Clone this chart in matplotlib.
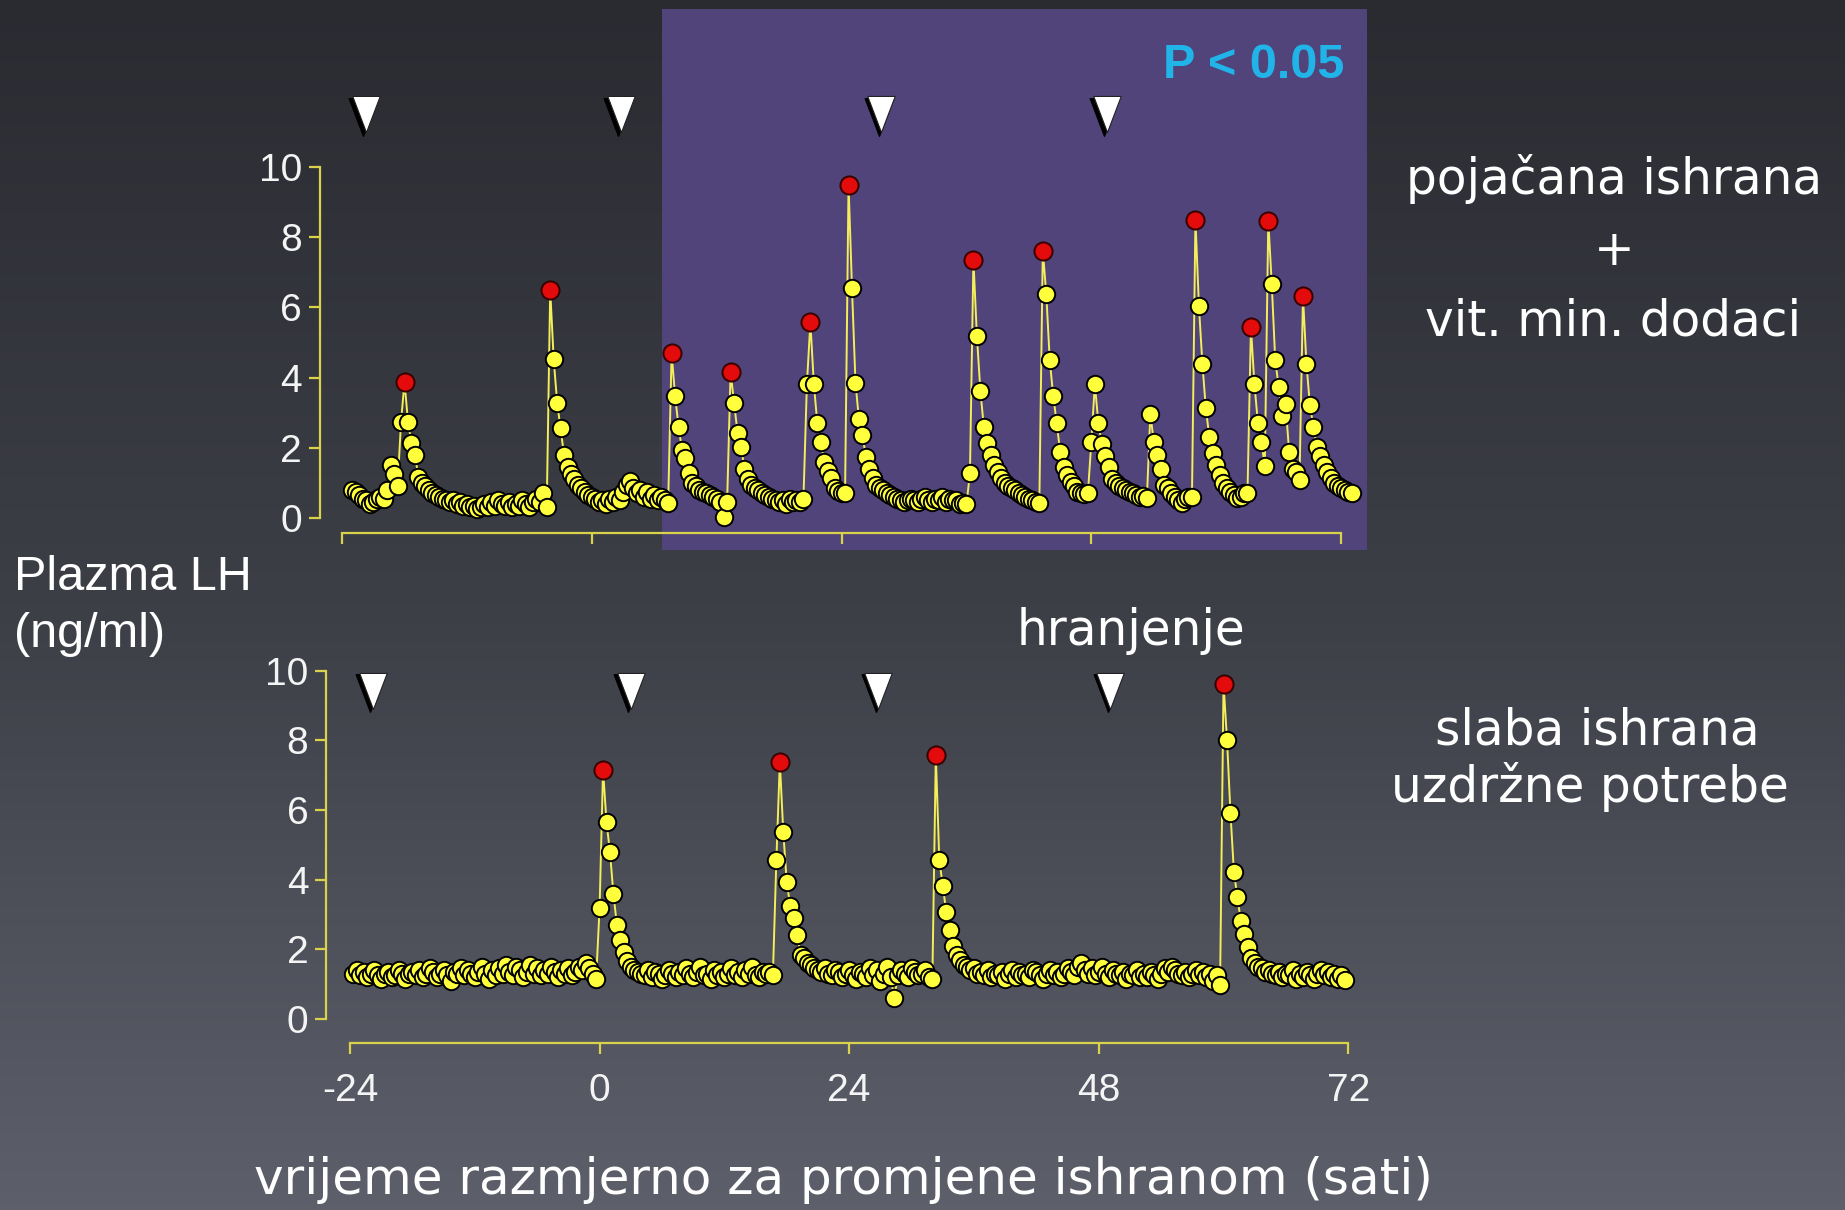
import numpy as np
import matplotlib
matplotlib.use('Agg')
import matplotlib.pyplot as plt
from matplotlib.path import Path
from matplotlib.patches import Rectangle
from matplotlib.colors import LinearSegmentedColormap
import matplotlib.transforms as mtransforms

# LH samples every 20 min (3 per hour), values in ng/ml
top_start = -23.0
top_lh = [
    0.80, 0.75, 0.65,  0.55, 0.50, 0.40,   # -23, -22
    0.45, 0.55, 0.60,  0.55, 0.80, 1.50,   # -21, -20
    1.25, 0.90, 2.74,  3.88, 2.74, 2.13,   # -19, -18
    1.79, 1.18, 1.00,  0.90, 0.80, 0.70,   # -17, -16
    0.65, 0.60, 0.55,  0.50, 0.45, 0.50,   # -15, -14
    0.40, 0.45, 0.35,  0.40, 0.30, 0.35,   # -13, -12
    0.25, 0.30, 0.40,  0.30, 0.45, 0.35,   # -11, -10
    0.50, 0.40, 0.35,  0.45, 0.30, 0.40,   # -9, -8
    0.35, 0.50, 0.40,  0.30, 0.45, 0.55,   # -7, -6
    0.45, 0.70, 0.32,  6.50, 4.53, 3.29,   # -5, -4
    2.55, 1.79, 1.45,  1.25, 1.10, 0.95,   # -3, -2
    0.85, 0.75, 0.65,  0.60, 0.55, 0.45,   # -1, 0
    0.50, 0.40, 0.55,  0.45, 0.60, 0.50,   # 1, 2
    0.75, 0.95, 1.05,  0.85, 0.70, 0.80,   # 3, 4
    0.60, 0.75, 0.55,  0.65, 0.50, 0.60,   # 5, 6
    0.50, 0.42, 4.69,  3.48, 2.60, 1.94,   # 7, 8
    1.70, 1.27, 1.00,  0.90, 0.80, 0.75,   # 9, 10
    0.70, 0.65, 0.60,  0.55, 0.45, 0.04,   # 11, 12
    0.46, 4.15, 3.29,  2.43, 2.03, 1.41,   # 13, 14
    1.10, 0.95, 0.85,  0.80, 0.70, 0.65,   # 15, 16
    0.60, 0.55, 0.50,  0.45, 0.50, 0.40,   # 17, 18
    0.55, 0.45, 0.50,  0.45, 0.55, 3.82,   # 19, 20
    5.57, 3.82, 2.70,  2.17, 1.60, 1.35,   # 21, 22
    1.13, 0.85, 0.78,  0.72, 0.70, 9.50,   # 23, 24
    6.54, 3.86, 2.81,  2.36, 1.75, 1.41,   # 25, 26
    1.13, 0.95, 0.85,  0.80, 0.70, 0.65,   # 27, 28
    0.60, 0.55, 0.50,  0.45, 0.50, 0.55,   # 29, 30
    0.50, 0.45, 0.55,  0.60, 0.50, 0.45,   # 31, 32
    0.55, 0.50, 0.60,  0.45, 0.55, 0.50,   # 33, 34
    0.50, 0.40, 0.44,  0.40, 1.27, 7.35,   # 35, 36
    5.19, 3.63, 2.60,  2.13, 1.79, 1.50,   # 37, 38
    1.30, 1.15, 1.00,  0.90, 0.85, 0.80,   # 39, 40
    0.70, 0.65, 0.60,  0.55, 0.50, 0.45,   # 41, 42
    0.42, 7.62, 6.38,  4.50, 3.48, 2.72,   # 43, 44
    1.89, 1.46, 1.22,  1.03, 0.90, 0.75,   # 45, 46
    0.72, 0.68, 0.70,  2.17, 3.82, 2.72,   # 47, 48
    2.10, 1.76, 1.44,  1.10, 1.00, 0.90,   # 49, 50
    0.85, 0.80, 0.75,  0.70, 0.65, 0.60,   # 51, 52
    0.62, 0.56, 2.96,  2.17, 1.79, 1.41,   # 53, 54
    0.94, 0.85, 0.70,  0.60, 0.50, 0.44,   # 55, 56
    0.55, 0.60, 0.61,  8.50, 6.05, 4.40,   # 57, 58
    3.12, 2.32, 1.84,  1.51, 1.22, 1.00,   # 59, 60
    0.85, 0.75, 0.65,  0.56, 0.60, 0.70,   # 61, 62
    0.70, 5.43, 3.82,  2.72, 2.17, 1.49,   # 63, 64
    8.47, 6.67, 4.50,  3.74, 2.90, 3.24,   # 65, 66
    1.89, 1.41, 1.32,  1.08, 6.32, 4.39,   # 67, 68
    3.22, 2.60, 2.03,  1.77, 1.50, 1.32,   # 69, 70
    1.15, 1.00, 0.90,  0.85, 0.80, 0.75,   # 71, 72
    0.70,                                  # 73
]
top_peak_hours = [-18.0, -4.0, 7.67, 13.33, 21.0, 24.67, 36.67, 43.33, 58.0, 63.33, 65.0, 68.33]
top_feed_hours = [-21.7, 2.8, 27.8, 49.5]

bottom_start = -23.0 - 2 / 3
bottom_lh = [
    1.30, 1.40, 1.25,  1.35, 1.20, 1.30,   # -24, -23
    1.40, 1.25, 1.15,  1.30, 1.35, 1.20,   # -22, -21
    1.25, 1.40, 1.30,  1.15, 1.30, 1.35,   # -20, -19
    1.25, 1.40, 1.20,  1.30, 1.45, 1.35,   # -18, -17
    1.20, 1.30, 1.40,  1.25, 1.10, 1.35,   # -16, -15
    1.30, 1.45, 1.25,  1.40, 1.30, 1.20,   # -14, -13
    1.35, 1.50, 1.30,  1.15, 1.40, 1.25,   # -12, -11
    1.45, 1.30, 1.55,  1.35, 1.25, 1.50,   # -10, -9
    1.40, 1.20, 1.35,  1.55, 1.30, 1.45,   # -8, -7
    1.25, 1.40, 1.30,  1.50, 1.35, 1.20,   # -6, -5
    1.40, 1.30, 1.45,  1.25, 1.35, 1.50,   # -4, -3
    1.40, 1.60, 1.45,  1.30, 1.14, 3.18,   # -2, -1
    7.16, 5.65, 4.79,  3.58, 2.70, 2.27,   # 0, 1
    1.93, 1.65, 1.50,  1.40, 1.35, 1.30,   # 2, 3
    1.25, 1.40, 1.20,  1.35, 1.30, 1.15,   # 4, 5
    1.25, 1.40, 1.30,  1.20, 1.35, 1.25,   # 6, 7
    1.45, 1.30, 1.20,  1.35, 1.50, 1.25,   # 8, 9
    1.30, 1.15, 1.40,  1.25, 1.35, 1.20,   # 10, 11
    1.30, 1.45, 1.25,  1.35, 1.20, 1.40,   # 12, 13
    1.30, 1.50, 1.25,  1.20, 1.35, 1.30,   # 14, 15
    1.35, 1.26, 4.57,  7.37, 5.36, 3.92,   # 16, 17
    3.25, 2.91, 2.41,  1.84, 1.75, 1.60,   # 18, 19
    1.55, 1.45, 1.40,  1.35, 1.45, 1.30,   # 20, 21
    1.25, 1.40, 1.35,  1.20, 1.30, 1.40,   # 22, 23
    1.25, 1.15, 1.35,  1.30, 1.20, 1.45,   # 24, 25
    1.25, 1.40, 1.10,  1.30, 1.50, 1.20,   # 26, 27
    0.59, 1.25, 1.40,  1.30, 1.20, 1.45,   # 28, 29
    1.35, 1.25, 1.30,  1.40, 1.20, 1.14,   # 30, 31
    7.57, 4.57, 3.83,  3.08, 2.56, 2.10,   # 32, 33
    1.85, 1.70, 1.55,  1.50, 1.40, 1.45,   # 34, 35
    1.30, 1.35, 1.25,  1.40, 1.20, 1.30,   # 36, 37
    1.25, 1.35, 1.15,  1.30, 1.40, 1.20,   # 38, 39
    1.35, 1.25, 1.30,  1.20, 1.40, 1.35,   # 40, 41
    1.25, 1.15, 1.30,  1.40, 1.25, 1.35,   # 42, 43
    1.20, 1.30, 1.45,  1.35, 1.25, 1.50,   # 44, 45
    1.60, 1.40, 1.30,  1.45, 1.25, 1.35,   # 46, 47
    1.50, 1.30, 1.20,  1.40, 1.30, 1.25,   # 48, 49
    1.35, 1.15, 1.30,  1.25, 1.40, 1.20,   # 50, 51
    1.30, 1.20, 1.35,  1.25, 1.15, 1.30,   # 52, 53
    1.45, 1.35, 1.50,  1.40, 1.30, 1.25,   # 54, 55
    1.35, 1.20, 1.30,  1.40, 1.25, 1.35,   # 56, 57
    1.20, 1.30, 1.10,  1.25, 0.98, 9.63,   # 58, 59
    8.02, 5.91, 4.21,  3.50, 2.80, 2.44,   # 60, 61
    2.08, 1.74, 1.60,  1.50, 1.45, 1.35,   # 62, 63
    1.40, 1.30, 1.25,  1.35, 1.20, 1.30,   # 64, 65
    1.25, 1.40, 1.15,  1.30, 1.20, 1.35,   # 66, 67
    1.25, 1.15, 1.30,  1.40, 1.25, 1.35,   # 68, 69
    1.20, 1.30, 1.15,  1.25, 1.12,         # 70, 71
]
bottom_peak_hours = [0.33, 17.33, 32.33, 60.0]
bottom_feed_hours = [-21.8, 3.0, 26.8, 49.1]

x_ticks = [-24, 0, 24, 48, 72]
y_ticks = [0, 2, 4, 6, 8, 10]

YELLOW = '#ffff3c'
LINE = '#f4ee5a'
AXIS = '#d9d24a'
RED = '#e30b0b'
PURPLE = '#50447a'

plt.rcParams['font.family'] = ['Liberation Sans', 'DejaVu Sans']
plt.rcParams['axes.unicode_minus'] = False

fig = plt.figure(figsize=(18.45, 12.10), dpi=100)

# background gradient
bg = fig.add_axes([0, 0, 1, 1], zorder=-2)
cmap = LinearSegmentedColormap.from_list('bg', ['#2a2b31', '#3d3f47', '#5d5f6b'])
grad = np.linspace(0, 1, 256).reshape(-1, 1)
bg.imshow(grad, aspect='auto', cmap=cmap, extent=[0, 1, 0, 1], origin='upper')
bg.set_xlim(0, 1)
bg.set_ylim(0, 1)
bg.axis('off')
bg.add_patch(Rectangle((0.359, 0.5455), 0.382, 0.447, facecolor=PURPLE,
                       edgecolor='none', transform=bg.transAxes))

tri = Path([(-0.38, 0.5), (0.38, 0.5), (0.0, -0.5), (-0.38, 0.5)],
           [Path.MOVETO, Path.LINETO, Path.LINETO, Path.CLOSEPOLY])


def draw_panel(ax, start, values, peak_hours, feed_hours, feed_y, show_labels,
               left_out, bottom_out):
    t = start + np.arange(len(values)) / 3.0
    v = np.array(values)
    ax.plot(t, v, color=LINE, lw=1.4, zorder=2, clip_on=False)
    ax.plot(t, v, ls='none', marker='o', ms=12.5, mfc=YELLOW, mec='black',
            mew=1.4, zorder=3, clip_on=False)
    idx = [int(np.argmin(np.abs(t - h))) for h in peak_hours]
    ax.plot(t[idx], v[idx], ls='none', marker='o', ms=13, mfc=RED,
            mec='#3a0000', mew=1.4, zorder=4, clip_on=False)

    # feeding times
    fy = [feed_y] * len(feed_hours)
    shadow = mtransforms.offset_copy(ax.transData, fig=fig, x=-2.5, y=-2.5, units='dots')
    ax.plot(feed_hours, fy, ls='none', marker=tri, ms=27, mfc='black', mec='black',
            transform=shadow, clip_on=False, zorder=5)
    ax.plot(feed_hours, fy, ls='none', marker=tri, ms=26, mfc='white', mec='#222222',
            mew=0.8, clip_on=False, zorder=6)

    ax.set_xlim(-24, 72)
    ax.set_ylim(0, 10)
    ax.patch.set_alpha(0)
    for side in ['top', 'right']:
        ax.spines[side].set_visible(False)
    ax.spines['left'].set_position(('outward', left_out))
    ax.spines['bottom'].set_position(('outward', bottom_out))
    ax.spines['left'].set_bounds(0, 10)
    ax.spines['bottom'].set_bounds(-24, 72)
    for side in ['left', 'bottom']:
        ax.spines[side].set_color(AXIS)
        ax.spines[side].set_linewidth(1.6)
    ax.set_xticks(x_ticks)
    ax.set_yticks(y_ticks)
    ax.tick_params(axis='both', colors=AXIS, labelcolor='#f4f4f4', length=8,
                   width=1.6, labelsize=28)
    ax.tick_params(axis='y', pad=5)
    ax.tick_params(axis='x', pad=14, labelbottom=show_labels)


ax_top = fig.add_axes([0.1854, 0.5719, 0.5415, 0.2901])
draw_panel(ax_top, top_start, top_lh, top_peak_hours, top_feed_hours, 11.5, False, 16, 11)

ax_bot = fig.add_axes([0.1897, 0.1579, 0.5411, 0.2878])
draw_panel(ax_bot, bottom_start, bottom_lh, bottom_peak_hours, bottom_feed_hours, 9.43, True, 17, 17)

# texts
fig.text(0.7284, 0.9358, 'P < 0.05', color='#21b4e8', fontsize=35, fontweight='bold',
         ha='right', va='baseline')
hand = ['DejaVu Sans']
fig.text(0.875, 0.8397, 'pojačana ishrana', color='white', fontsize=35,
         family=hand, ha='center', va='baseline')
fig.text(0.875, 0.7926, '+', color='white', fontsize=35, family=hand,
         ha='center', va='center')
fig.text(0.874, 0.7231, 'vit. min. dodaci', color='white', fontsize=35,
         family=hand, ha='center', va='baseline')
fig.text(0.613, 0.467, 'hranjenje', color='white', fontsize=35, family=hand,
         ha='center', va='baseline')
fig.text(0.866, 0.3843, 'slaba ishrana', color='white', fontsize=35, family=hand,
         ha='center', va='baseline')
fig.text(0.862, 0.3368, 'uzdržne potrebe', color='white', fontsize=35, family=hand,
         ha='center', va='baseline')
fig.text(0.4574, 0.0132, 'vrijeme razmjerno za promjene ishranom (sati)', color='white',
         fontsize=36, family=hand, ha='center', va='baseline')
fig.text(0.0076, 0.512, 'Plazma LH', color='white', fontsize=35, ha='left', va='baseline')
fig.text(0.0076, 0.465, '(ng/ml)', color='white', fontsize=35, ha='left', va='baseline')

fig.savefig('out.png', dpi=100)
